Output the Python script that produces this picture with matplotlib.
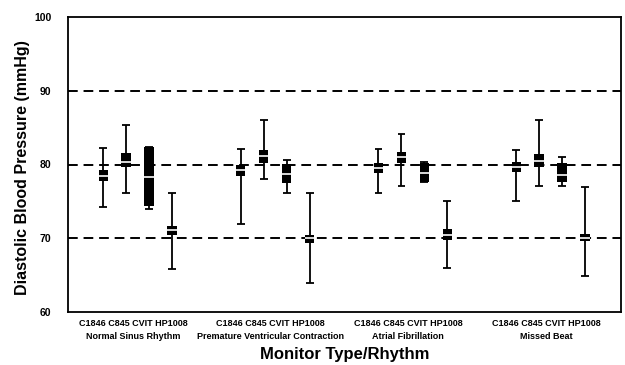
import numpy as np
import matplotlib
matplotlib.use('Agg')
import matplotlib.pyplot as plt

plt.rcParams['font.family'] = ['Liberation Sans', 'DejaVu Sans']

#%% Datos

rhythms = ['Normal Sinus Rhythm', 'Premature Ventricular Contraction',
           'Atrial Fibrillation', 'Missed Beat']
monitors = ['C1846', 'C845', 'CVIT', 'HP1008']

# one row per rhythm, one column per monitor
w_max = np.array([[82.3, 85.3, 82.4, 76.2],
                  [82.1, 86.1, 80.6, 76.2],
                  [82.1, 84.1, 80.3, 75.1],
                  [82.0, 86.1, 81.0, 77.0]])
w_min = np.array([[74.2, 76.2, 74.0, 65.8],
                  [72.0, 78.1, 76.1, 64.0],
                  [76.1, 77.1, 77.6, 66.0],
                  [75.0, 77.1, 77.1, 64.9]])
q_hi = np.array([[79.2, 81.5, 82.4, 71.7],
                 [79.9, 82.0, 80.1, 70.5],
                 [80.2, 81.7, 80.2, 71.2],
                 [80.3, 81.4, 80.2, 70.6]])
q_lo = np.array([[77.8, 79.6, 74.4, 70.5],
                 [78.5, 80.2, 77.5, 69.4],
                 [78.8, 80.2, 77.6, 69.7],
                 [79.0, 79.6, 77.6, 69.6]])
med = np.array([[78.5, 80.3, 78.3, 71.1],
                [79.3, 81.2, 78.7, 70.0],
                [79.5, 81.0, 78.9, 70.5],
                [79.6, 80.5, 78.6, 70.1]])

#%% Gráfico

fig = plt.figure(figsize=(6.25, 3.65), dpi=100)
ax = fig.add_axes([68/625, 1-312/365, 553/625, 295/365])

for y in [70, 80, 90]:
    ax.axhline(y, color='k', ls=(0, (5, 3)), lw=1.4, zorder=1)

for g in range(len(rhythms)):
    x = 6*g + np.arange(len(monitors))
    ax.vlines(x, w_min[g], w_max[g], color='k', lw=1.3, zorder=2)
    ax.hlines(w_max[g], x-0.17, x+0.17, color='k', lw=1.3, zorder=2)
    ax.hlines(w_min[g], x-0.17, x+0.17, color='k', lw=1.3, zorder=2)
    ax.bar(x, q_hi[g]-q_lo[g], bottom=q_lo[g], width=0.4, color='k', zorder=3)
    ax.hlines(med[g], x-0.2, x+0.2, color='white', lw=1.2, zorder=4)

ax.set_xlim(-1.53, 22.57)
ax.set_ylim(60, 100)
ax.set_yticks([60, 70, 80, 90, 100])
ax.set_yticklabels(['60', '70', '80', '90', '100'], fontsize=7.5, fontweight='bold')
ax.set_xticks([6*g + 1.3 for g in range(len(rhythms))])
ax.set_xticklabels([' '.join(monitors) + '\n' + r for r in rhythms],
                   fontsize=6.5, fontweight='bold', linespacing=1.6)
ax.tick_params(axis='x', length=0, pad=5)
ax.tick_params(axis='y', length=0, pad=12)
for s in ax.spines.values():
    s.set_linewidth(1.3)

ax.set_ylabel('Diastolic Blood Pressure (mmHg)', fontsize=11.5, fontweight='bold')
ax.yaxis.set_label_coords(-0.068, 0.49)
ax.set_xlabel('Monitor Type/Rhythm', fontsize=12, fontweight='bold', labelpad=4)

fig.savefig('out.png', dpi=100)
